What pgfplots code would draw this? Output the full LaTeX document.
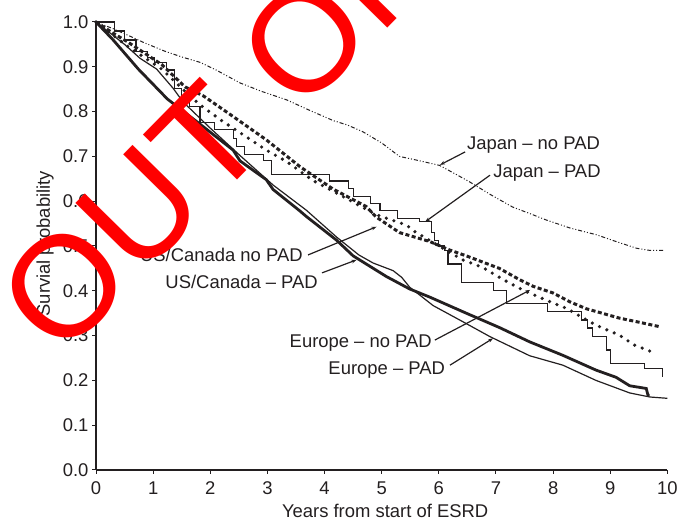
\documentclass[border=0pt]{standalone}
\usepackage{pgfplots}
\pgfplotsset{compat=1.18}
\usepackage{fontspec}
\setmainfont{Liberation Sans}
\usetikzlibrary{arrows.meta}
\definecolor{txt}{RGB}{35,31,32}
\newcommand{\lf}{\fontsize{18.5}{22}\selectfont}
\begin{document}
\begin{tikzpicture}
\path[use as bounding box] (0,0) rectangle (678bp,520bp);
\begin{axis}[
  at={(96bp,50bp)}, anchor=south west, scale only axis,
  width=571.4bp, height=448bp,
  xmin=0, xmax=10, ymin=0, ymax=1,
  axis lines=left, axis line style={-, line width=1.3bp, txt},
  xtick={0,1,2,3,4,5,6,7,8,9,10},
  ytick={0,0.1,0.2,0.3,0.4,0.5,0.6,0.7,0.8,0.9,1.0},
  tick align=outside, major tick length=4bp,
  tick style={line width=1bp, txt},
  /pgf/number format/assume math mode=true,
  yticklabel style={/pgf/number format/.cd, fixed, fixed zerofill, precision=1},
  tick label style={font=\lf, text=txt},
  xticklabel style={yshift=-4bp},
  xlabel={Years from start of ESRD},
  ylabel={Survial probability},
  label style={font=\lf, text=txt},
  xlabel style={at={(axis description cs:0.506,-0.0915)}, anchor=center},
  ylabel style={at={(axis description cs:-0.089,0.505)}, anchor=center},
  clip=false,
]
% Japan - no PAD
\addplot[line width=1bp, txt, dash pattern=on 4bp off 2bp on 1bp off 2bp on 1bp off 2bp] coordinates {
(0,1.0)(0.3,0.985)(0.6,0.968)(0.82,0.955)(1.2,0.935)(1.5,0.922)(1.82,0.91)(2.1,0.893)(2.52,0.864)(2.9,0.845)(3.34,0.826)(3.7,0.805)(4.15,0.78)(4.4,0.77)(4.67,0.755)(5.0,0.73)(5.31,0.70)(5.6,0.692)(6.01,0.68)(6.3,0.66)(6.54,0.643)(6.9,0.615)(7.29,0.587)(7.6,0.572)(7.88,0.558)(8.3,0.54)(8.76,0.525)(9.1,0.51)(9.46,0.495)(9.7,0.49)(9.95,0.49)};
% Japan - PAD
\addplot[const plot, line width=1.2bp, txt] coordinates {
(0,1.0)(0.33,0.98)(0.5,0.96)(0.7,0.935)(0.9,0.92)(1.03,0.91)(1.24,0.893)(1.38,0.852)(1.5,0.83)(1.64,0.812)(1.82,0.775)(2.08,0.76)(2.4,0.74)(2.46,0.722)(2.6,0.705)(2.93,0.69)(3.07,0.66)(4.09,0.645)(4.42,0.628)(4.5,0.61)(4.8,0.595)(4.97,0.58)(5.28,0.562)(5.66,0.555)(5.87,0.53)(5.93,0.513)(6.0,0.50)(6.10,0.49)(6.16,0.46)(6.39,0.418)(6.95,0.40)(7.18,0.372)(7.9,0.353)(8.49,0.335)(8.6,0.317)(8.69,0.298)(8.93,0.268)(9.01,0.238)(9.6,0.227)(9.92,0.208)};
% US/Canada (dense dashes)
\addplot[line width=3bp, txt, dash pattern=on 4bp off 2.5bp] coordinates {
(0,1.0)(0.3,0.975)(0.56,0.955)(1.15,0.905)(1.56,0.855)(1.88,0.835)(2.4,0.789)(2.98,0.737)(3.57,0.677)(4.15,0.627)(4.73,0.588)(4.9,0.565)(5.31,0.53)(5.84,0.51)(6.19,0.491)(6.48,0.478)(7.06,0.45)(7.41,0.425)(7.65,0.41)(8.0,0.395)(8.3,0.375)(8.58,0.36)(9.16,0.339)(9.5,0.33)(9.86,0.32)};
% US/Canada (round dots)
\addplot[line width=3.6bp, txt, line cap=round, dash pattern=on 0bp off 8bp] coordinates {
(0,1.0)(0.3,0.97)(0.56,0.945)(1.15,0.895)(1.56,0.845)(1.82,0.815)(2.23,0.777)(2.58,0.748)(2.98,0.714)(3.33,0.689)(3.8,0.646)(4.4,0.605)(4.9,0.57)(5.43,0.547)(5.58,0.532)(6.0,0.50)(6.42,0.469)(6.77,0.452)(7.06,0.43)(7.24,0.417)(7.5,0.40)(7.88,0.379)(8.23,0.361)(8.64,0.331)(8.81,0.32)(9.16,0.301)(9.42,0.279)(9.80,0.26)};
% Europe (thick)
\addplot[line width=2.8bp, txt] coordinates {
(0,1.0)(0.3,0.96)(0.74,0.895)(1.25,0.828)(1.82,0.772)(2.4,0.714)(2.52,0.69)(2.98,0.648)(3.1,0.626)(3.57,0.578)(3.68,0.566)(4.21,0.513)(4.5,0.478)(5.08,0.432)(5.49,0.404)(5.84,0.386)(6.48,0.35)(7.06,0.318)(7.59,0.286)(8.17,0.256)(8.75,0.223)(9.1,0.207)(9.34,0.188)(9.63,0.182)(9.66,0.167)(9.69,0.167)};
% Europe (thin)
\addplot[line width=1.2bp, txt] coordinates {
(0,1.0)(0.3,0.97)(0.5,0.95)(0.77,0.919)(1.06,0.895)(1.35,0.852)(1.52,0.822)(2.0,0.763)(2.52,0.702)(3.1,0.636)(3.68,0.58)(4.21,0.52)(4.6,0.48)(4.85,0.462)(5.2,0.445)(5.35,0.43)(5.49,0.408)(5.9,0.367)(6.42,0.331)(6.89,0.298)(7.59,0.255)(8.17,0.234)(8.75,0.20)(9.34,0.172)(9.69,0.163)(10.0,0.16)};
% labels
\node[anchor=west, font=\lf, text=txt, inner sep=0] at (axis cs:6.49,0.725) {Japan – no PAD};
\node[anchor=west, font=\lf, text=txt, inner sep=0] at (axis cs:6.95,0.663) {Japan – PAD};
\node[anchor=east, font=\lf, text=txt, inner sep=0] at (axis cs:3.62,0.48) {US/Canada no PAD};
\node[anchor=east, font=\lf, text=txt, inner sep=0] at (axis cs:3.885,0.42) {US/Canada – PAD};
\node[anchor=east, font=\lf, text=txt, inner sep=0] at (axis cs:5.88,0.283) {Europe – no PAD};
\node[anchor=east, font=\lf, text=txt, inner sep=0] at (axis cs:6.11,0.223) {Europe – PAD};
% pointers
\begin{scope}[line width=1.2bp, txt, -{Stealth[length=5bp,width=3.5bp]}]
\draw (axis cs:6.46,0.710) -- (axis cs:6.02,0.681);
\draw (axis cs:6.895,0.658) -- (axis cs:5.76,0.554);
\draw (axis cs:3.71,0.48) -- (axis cs:4.91,0.543);
\draw (axis cs:3.955,0.44) -- (axis cs:4.56,0.469);
\draw (axis cs:5.93,0.29) -- (axis cs:7.6,0.402);
\draw (axis cs:6.195,0.234) -- (axis cs:6.95,0.294);
\end{scope}
\end{axis}
% watermark
\node[anchor=base west, rotate=45.5, inner sep=0, text=red, font=\fontsize{144}{144}\selectfont] at (60.6bp,159.8bp) {OUT OF};
\end{tikzpicture}
\end{document}
